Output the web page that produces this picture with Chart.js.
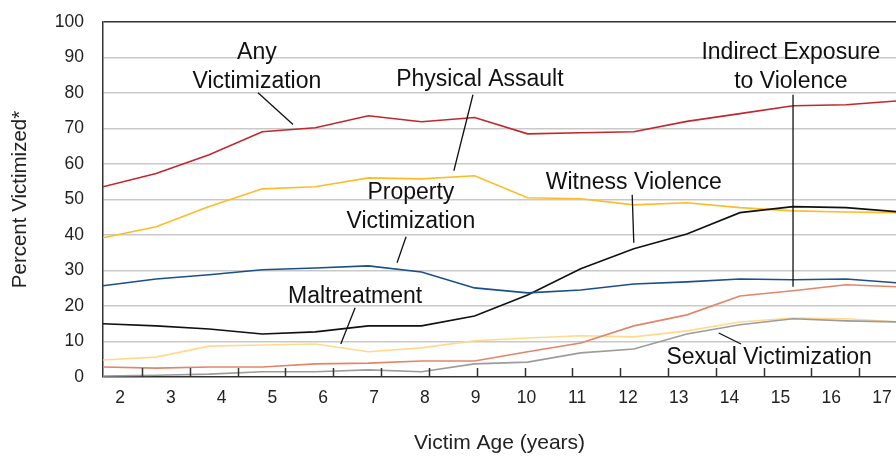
<!DOCTYPE html>
<html>
<head>
<meta charset="utf-8">
<script src="https://cdn.jsdelivr.net/npm/chart.js@4.4.0/dist/chart.umd.min.js"></script>
<style>
   html, body { margin: 0; padding: 0; background: #fff; overflow: hidden; }
</style>
</head>
<body>
<canvas id="chart" width="896" height="459"></canvas>
<script>
const ages = [2, 3, 4, 5, 6, 7, 8, 9, 10, 11, 12, 13, 14, 15, 16, 17];

const anyVictimization = [53.6, 57.3, 62.6, 69.1, 70.2, 73.6, 71.9, 73.1, 68.5, 68.8, 69.1, 72.0, 74.2, 76.4, 76.7, 77.8];
const physicalAssault = [39.2, 42.3, 48.0, 53.0, 53.6, 56.1, 55.8, 56.7, 50.5, 50.2, 48.5, 49.1, 47.7, 46.8, 46.5, 46.3];
const propertyVictimization = [25.7, 27.6, 28.8, 30.2, 30.7, 31.3, 29.6, 25.1, 23.7, 24.5, 26.2, 26.8, 27.6, 27.4, 27.6, 26.5];
const witnessViolence = [15.0, 14.4, 13.5, 12.1, 12.7, 14.4, 14.4, 17.2, 23.1, 30.5, 36.1, 40.3, 46.3, 48.0, 47.7, 46.5];
const maltreatment = [4.8, 5.6, 8.7, 9.0, 9.3, 7.1, 8.2, 10.2, 11.0, 11.6, 11.3, 13.0, 15.5, 16.6, 16.4, 15.5];
const indirectExposure = [2.8, 2.5, 2.8, 2.8, 3.7, 3.9, 4.5, 4.5, 7.1, 9.6, 14.4, 17.5, 22.8, 24.3, 26.0, 25.4];
const sexualVictimization = [0.3, 0.5, 0.8, 1.5, 1.5, 2.0, 1.5, 3.7, 4.2, 6.8, 7.9, 12.1, 14.7, 16.4, 15.8, 15.5];

// callouts: text block centre and leader line, in data units (age, percent)
const notes = [
   { lines: ["Any", "Victimization"], x: 4.90, y: 87.3, from: [4.92, 80.1], to: [5.58, 71.1] },
   { lines: ["Physical Assault"], x: 9.10, y: 83.8, from: [8.97, 79.5], to: [8.61, 58.1] },
   { lines: ["Indirect Exposure", "to Violence"], x: 14.96, y: 87.2, from: [15.0, 79.5], to: [15.0, 25.4] },
   { lines: ["Witness Violence"], x: 12.0, y: 54.8, from: [11.97, 51.3], to: [12.0, 37.8] },
   { lines: ["Property", "Victimization"], x: 7.80, y: 47.8, from: [7.71, 39.5], to: [7.54, 32.2] },
   { lines: ["Maltreatment"], x: 6.75, y: 22.6, from: [6.75, 19.5], to: [6.48, 9.3] },
   { lines: ["Sexual Victimization"], x: 14.55, y: 5.4, from: [13.6, 12.4], to: [14.02, 9.3] },
];

const SANS = '"Liberation Sans", Arial, sans-serif';

const series = (data) => ages.map((a, i) => ({ x: a, y: data[i] }));

const line = (label, data, color) => ({
   label: label,
   data: series(data),
   borderColor: color,
   backgroundColor: color,
   borderWidth: 1.6,
   pointRadius: 0,
   tension: 0,
   fill: false,
});

const tickMarks = {
   id: "tickMarks",
   afterDatasetsDraw(chart) {
      const s = chart.scales.marks;
      const bottom = chart.chartArea.bottom;
      const ctx = chart.ctx;
      ctx.save();
      ctx.strokeStyle = "#333";
      ctx.lineWidth = 1.5;
      s.ticks.forEach((t) => {
         const px = Math.round(s.getPixelForValue(t.value)) + 0.5;
         ctx.beginPath();
         ctx.moveTo(px, bottom);
         ctx.lineTo(px, bottom - 9);
         ctx.stroke();
      });
      ctx.restore();
   },
};

const callouts = {
   id: "callouts",
   afterDatasetsDraw(chart) {
      const { ctx } = chart;
      const x = chart.scales.x;
      const y = chart.scales.y;
      ctx.save();
      ctx.font = "23px " + SANS;
      ctx.fillStyle = "#111";
      ctx.strokeStyle = "#111";
      ctx.lineWidth = 1.3;
      ctx.textAlign = "center";
      ctx.textBaseline = "middle";
      notes.forEach((n) => {
         const cx = x.getPixelForValue(n.x);
         const cy = y.getPixelForValue(n.y);
         const top = cy - ((n.lines.length - 1) * 29) / 2;
         n.lines.forEach((t, i) => ctx.fillText(t, cx, top + i * 29));
         ctx.beginPath();
         ctx.moveTo(x.getPixelForValue(n.from[0]), y.getPixelForValue(n.from[1]));
         ctx.lineTo(x.getPixelForValue(n.to[0]), y.getPixelForValue(n.to[1]));
         ctx.stroke();
      });
      ctx.restore();
   },
};

new Chart(document.getElementById("chart").getContext("2d"), {
   type: "line",
   data: {
      datasets: [
         line("Sexual Victimization", sexualVictimization, "#9c9c9c"),
         line("Indirect Exposure to Violence", indirectExposure, "#e0866a"),
         line("Maltreatment", maltreatment, "#ffda8c"),
         line("Property Victimization", propertyVictimization, "#1b4f8a"),
         line("Witness Violence", witnessViolence, "#111111"),
         line("Physical Assault", physicalAssault, "#fdbb2a"),
         line("Any Victimization", anyVictimization, "#c0282d"),
      ],
   },
   options: {
      responsive: false,
      animation: false,
      devicePixelRatio: 1,
      layout: { padding: { top: 22, right: 0, left: 0, bottom: 0 } },
      plugins: {
         legend: { display: false },
         tooltip: { enabled: false },
      },
      scales: {
         x: { type: "linear", axis: "x", position: "bottom", display: false, min: 2, max: 16.94 },
         marks: {
            type: "linear",
            axis: "x",
            position: "bottom",
            display: false,
            min: -0.816,
            max: 15.77,
            ticks: { stepSize: 1, includeBounds: false },
         },
         ages: {
            type: "linear",
            axis: "x",
            position: "bottom",
            min: 1.665,
            max: 17.276,
            grid: { display: false, drawTicks: false },
            border: { display: false },
            ticks: {
               stepSize: 1,
               includeBounds: false,
               autoSkip: false,
               maxRotation: 0,
               padding: 11,
               color: "#222",
               font: { family: SANS, size: 17.5 },
            },
            title: {
               display: true,
               text: "Victim Age (years)",
               color: "#222",
               font: { family: SANS, size: 21 },
               padding: { top: 0, bottom: 3 },
            },
            afterFit: (s) => {
               s.height = 82;
               s.paddingLeft = 0;
               s.paddingRight = 0;
            },
         },
         y: {
            type: "linear",
            axis: "y",
            position: "left",
            min: 0,
            max: 100,
            ticks: {
               stepSize: 10,
               padding: 19,
               color: "#222",
               font: { family: SANS, size: 17.5 },
            },
            grid: {
               color: (c) => (c.tick && (c.tick.value === 0 || c.tick.value === 100) ? "#333" : "#c9c9c9"),
               lineWidth: 1.5,
               drawTicks: false,
            },
            border: { color: "#333", width: 1.5 },
            title: {
               display: true,
               text: "Percent Victimized*",
               color: "#222",
               font: { family: SANS, size: 20.5 },
               padding: { top: 8, bottom: 0 },
            },
            afterFit: (s) => {
               s.width = 103;
               s.paddingTop = 0;
               s.paddingBottom = 0;
            },
         },
      },
   },
   plugins: [tickMarks, callouts],
});
</script>
</body>
</html>
